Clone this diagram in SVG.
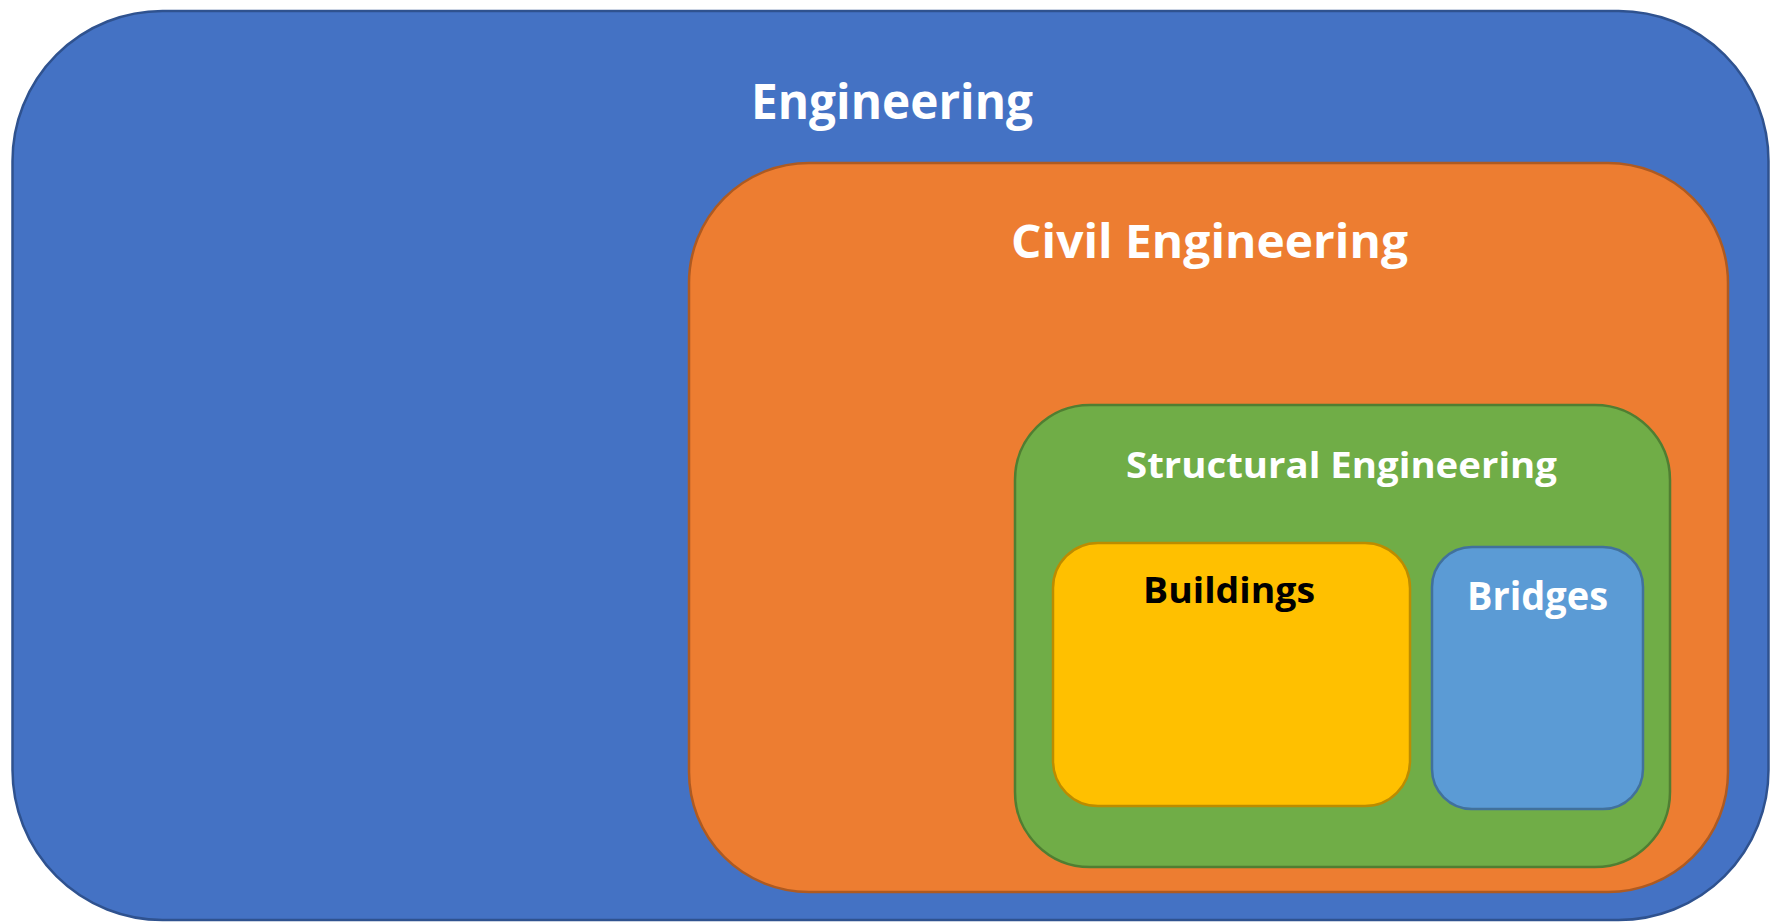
<svg xmlns="http://www.w3.org/2000/svg" width="1775" height="922" viewBox="0 0 1775 922">
<style>
.lbl{font-family:"Open Sans","Liberation Sans",sans-serif;font-weight:bold;text-anchor:middle}
.w{fill:#FFFFFF}
.k{fill:#000000}
</style>
<rect width="1775" height="922" fill="#FFFFFF"/>
<g id="engineering">
<rect x="12.5" y="11" width="1756" height="909" rx="150" ry="150" fill="#4472C4" stroke="#2F528F" stroke-width="2.5"/>
<text class="lbl w" x="892" y="119" font-size="48" textLength="282" lengthAdjust="spacingAndGlyphs">Engineering</text>
</g>
<g id="civil">
<rect x="689" y="163" width="1039" height="729" rx="120" ry="120" fill="#ED7D31" stroke="#AE5A21" stroke-width="2.5"/>
<text class="lbl w" x="1209.5" y="258" font-size="47" textLength="397" lengthAdjust="spacingAndGlyphs">Civil Engineering</text>
</g>
<g id="structural">
<rect x="1015" y="405" width="655" height="462" rx="75" ry="75" fill="#70AD47" stroke="#507E32" stroke-width="2.5"/>
<text class="lbl w" x="1341.5" y="478" font-size="36" textLength="431" lengthAdjust="spacingAndGlyphs">Structural Engineering</text>
</g>
<g id="buildings">
<rect x="1053" y="543" width="357" height="263" rx="45" ry="45" fill="#FFC000" stroke="#BC8C00" stroke-width="2.5"/>
<text class="lbl k" x="1229" y="603" font-size="36" textLength="172" lengthAdjust="spacingAndGlyphs">Buildings</text>
</g>
<g id="bridges">
<rect x="1432" y="547" width="211" height="262" rx="40" ry="40" fill="#5B9BD5" stroke="#41719C" stroke-width="2.5"/>
<text class="lbl w" x="1537.5" y="610" font-size="40" textLength="141" lengthAdjust="spacingAndGlyphs">Bridges</text>
</g>
<g id="connectors"></g>
</svg>
